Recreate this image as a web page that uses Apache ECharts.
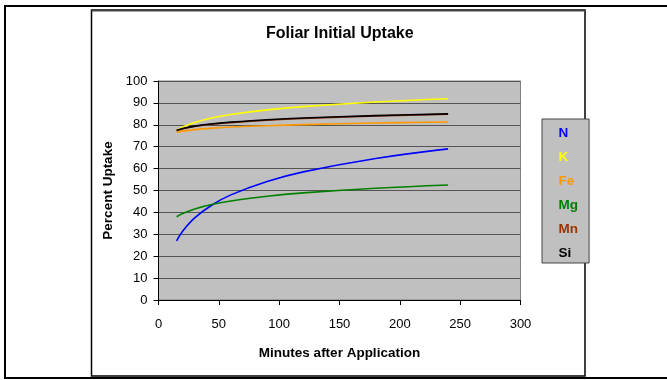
<!DOCTYPE html>
<html>
<head>
<meta charset="utf-8">
<script src="https://cdn.jsdelivr.net/npm/echarts@6/dist/echarts.min.js"></script>
<style>
html,body{margin:0;padding:0;background:#fff;}
#chart{width:667px;height:380px;}
</style>
</head>
<body>
<div id="chart"></div>
<script>
var minutes = [15, 20, 30, 45, 60, 90, 120, 180, 240];
var seriesNames = ['N', 'K', 'Fe', 'Mg', 'Mn', 'Si'];
var N  = [27.0, 31.4, 37.5, 43.6, 48.0, 54.1, 58.5, 64.6, 69.0];
var K  = [77.5, 79.0, 81.1, 83.2, 84.7, 86.8, 88.3, 90.4, 91.9];
var Fe = [76.6, 77.1, 77.8, 78.5, 79.0, 79.6, 80.1, 80.8, 81.3];
var Mg = [38.0, 39.5, 41.6, 43.7, 45.2, 47.4, 48.9, 51.0, 52.5];
var Mn = [77.3, 78.1, 79.2, 80.3, 81.0, 82.1, 82.9, 84.0, 84.8];
var Si = [77.5, 78.3, 79.4, 80.5, 81.2, 82.3, 83.1, 84.2, 85.0];
var xTicks = [0, 50, 100, 150, 200, 250, 300];
var yTicks = [0, 10, 20, 30, 40, 50, 60, 70, 80, 90, 100];

var values = [N, K, Fe, Mg, Mn, Si];
var colors = ['#0000ff', '#ffff00', '#ff9900', '#008000', '#993300', '#000000'];
var font = 'Liberation Sans, Arial, sans-serif';

function pairs(arr) {
  return minutes.map(function (m, i) { return [m, arr[i]]; });
}

var chart = echarts.init(document.getElementById('chart'), null, {renderer: 'canvas'});
var option = {
  animation: false,
  backgroundColor: '#ffffff',
  title: {
    text: 'Foliar Initial Uptake',
    left: 261, top: 21,
    textStyle: {fontFamily: font, fontSize: 16, fontWeight: 'bold', color: '#000'}
  },
  graphic: [
    {type: 'rect', shape: {x: 5, y: 6, width: 720, height: 372}, style: {fill: 'none', stroke: '#000', lineWidth: 2}, silent: true, z: -10},
    {type: 'rect', shape: {x: 91.5, y: 10, width: 493.5, height: 366}, style: {fill: 'none', stroke: '#000', lineWidth: 1.5}, silent: true, z: -10},
    {type: 'line', shape: {x1: 91.5, y1: 10.5, x2: 585, y2: 10.5}, style: {stroke: '#444', lineWidth: 2}, silent: true, z: -9}
  ],
  legend: {
    orient: 'vertical',
    left: 542, top: 119,
    padding: [7, 11, 3, 6],
    itemGap: 10,
    itemWidth: 0,
    itemHeight: 14,
    backgroundColor: '#c0c0c0',
    borderColor: '#444',
    borderWidth: 1,
    selectedMode: false,
    itemStyle: {opacity: 0},
    lineStyle: {opacity: 0},
    data: seriesNames.map(function (n, i) {
      return {name: n, textStyle: {color: colors[i], fontFamily: font, fontSize: 13.5, fontWeight: 'bold'}};
    })
  },
  grid: {
    left: 158.5, right: 146.5, top: 81, bottom: 80,
    show: true, backgroundColor: '#c0c0c0', borderColor: '#808080', borderWidth: 1
  },
  xAxis: {
    type: 'value', min: xTicks[0], max: xTicks[xTicks.length - 1], interval: 50,
    name: 'Minutes after Application', nameLocation: 'middle', nameGap: 46,
    nameTextStyle: {fontFamily: font, fontSize: 13.5, fontWeight: 'bold', color: '#000'},
    axisLine: {show: true, onZero: false, lineStyle: {color: '#000', width: 1}},
    axisTick: {show: true, inside: false, length: 5, lineStyle: {color: '#000'}},
    axisLabel: {margin: 18, fontFamily: font, fontSize: 13, color: '#000'},
    splitLine: {show: false}
  },
  yAxis: {
    type: 'value', min: yTicks[0], max: yTicks[yTicks.length - 1], interval: 10,
    name: 'Percent Uptake', nameLocation: 'middle', nameGap: 37, nameRotate: 90,
    nameTextStyle: {fontFamily: font, fontSize: 13.5, fontWeight: 'bold', color: '#000'},
    axisLine: {show: true, onZero: false, lineStyle: {color: '#000', width: 1}},
    axisTick: {show: true, inside: false, length: 5, lineStyle: {color: '#000'}},
    axisLabel: {margin: 11, fontFamily: font, fontSize: 13, color: '#000'},
    splitLine: {show: true, lineStyle: {color: '#555', width: 1}}
  },
  series: seriesNames.map(function (n, i) {
    return {
      name: n, type: 'line', data: pairs(values[i]),
      smooth: 0.4, showSymbol: false, symbol: 'none',
      itemStyle: {color: colors[i]},
      lineStyle: {color: colors[i], width: 1.6}
    };
  })
};
chart.setOption(option);
</script>
</body>
</html>
